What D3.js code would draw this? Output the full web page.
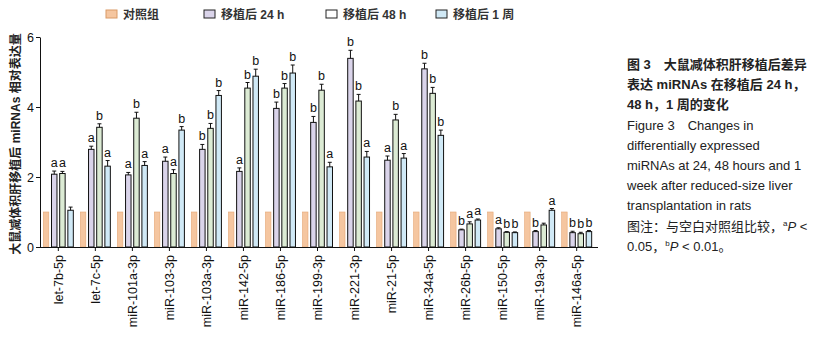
<!DOCTYPE html>
<html>
<head>
<meta charset="utf-8">
<script src="https://cdn.jsdelivr.net/npm/d3@7"></script>
<style>
  body { margin: 0; background: #fff; }
  svg { font-family: "Liberation Sans", Arial, "Noto Sans CJK SC", sans-serif; }
</style>
</head>
<body>
<div id="chart_div"></div>
<script>
// data
const categories = ["let-7b-5p", "let-7c-5p", "miR-101a-3p", "miR-103-3p", "miR-103a-3p", "miR-142-5p",
  "miR-186-5p", "miR-199-3p", "miR-221-3p", "miR-21-5p", "miR-34a-5p", "miR-26b-5p",
  "miR-150-5p", "miR-19a-3p", "miR-146a-5p"];
const groupNames = ["对照组", "移植后 24 h", "移植后 48 h", "移植后 1 周"];
const controlValues = [1, 1, 1, 1, 1, 1, 1, 1, 1, 1, 1, 1, 1, 1, 1];
const h24Values = [2.08, 2.79, 2.06, 2.45, 2.79, 2.16, 3.96, 3.56, 5.39, 2.48, 5.09, 0.49, 0.52, 0.44, 0.41];
const h24Err = [0.09, 0.09, 0.07, 0.12, 0.14, 0.10, 0.18, 0.17, 0.23, 0.12, 0.16, 0.02, 0.03, 0.03, 0.04];
const h48Values = [2.10, 3.42, 3.68, 2.10, 3.39, 4.54, 4.54, 4.48, 4.17, 3.63, 4.39, 0.66, 0.42, 0.63, 0.38];
const h48Err = [0.06, 0.10, 0.17, 0.11, 0.14, 0.16, 0.13, 0.17, 0.19, 0.16, 0.17, 0.06, 0.02, 0.05, 0.04];
const w1Values = [1.05, 2.31, 2.33, 3.34, 4.33, 4.88, 4.97, 2.29, 2.57, 2.54, 3.19, 0.77, 0.41, 1.05, 0.44];
const w1Err = [0.09, 0.16, 0.11, 0.10, 0.14, 0.20, 0.23, 0.13, 0.16, 0.13, 0.15, 0.03, 0.02, 0.05, 0.03];
const h24Sig = ["a", "a", "a", "a", "b", "a", "b", "b", "b", "a", "b", "b", "a", "b", "b"];
const h48Sig = ["a", "b", "b", "a", "b", "b", "b", "b", "b", "b", "b", "a", "b", "", "b"];
const w1Sig = ["", "a", "a", "b", "b", "b", "b", "a", "a", "a", "b", "a", "b", "a", "b"];
const yTicks = [0, 2, 4, 6];

const fills = ["#f5c6a0", "#dad4ea", "#dcebd4", "#d0e9f6"];
const legendFills = ["#f5c6a0", "#dad4ea", "#ffffff", "#d0e9f6"];

const svg = d3.select("#chart_div").append("svg")
  .attr("width", 834).attr("height", 338);

// rows per group: [value, err, sig]
const series = [
  controlValues.map(v => [v, 0, ""]),
  h24Values.map((v, i) => [v, h24Err[i], h24Sig[i]]),
  h48Values.map((v, i) => [v, h48Err[i], h48Sig[i]]),
  w1Values.map((v, i) => [v, w1Err[i], w1Sig[i]])
];

const x = d3.scaleBand().domain(categories).range([40, 595]).paddingInner(0.19).paddingOuter(0.09);
const xi = d3.scaleBand().domain(d3.range(4)).range([0, x.bandwidth()]).paddingInner(0.33);
const y = d3.scaleLinear().domain([0, 6]).range([247, 37]);

// bars
categories.forEach((c, ci) => {
  const g = svg.append("g").attr("transform", `translate(${x(c)},0)`);
  series.forEach((s, si) => {
    const [v, e, sig] = s[ci];
    const bx = xi(si), bw = xi.bandwidth();
    g.append("rect")
      .attr("x", bx).attr("y", y(v))
      .attr("width", bw).attr("height", y(0) - y(v))
      .attr("fill", fills[si])
      .attr("stroke", si === 0 ? "#e4a674" : "#111")
      .attr("stroke-width", si === 0 ? 0.6 : 1);
    if (e > 0) {
      g.append("line").attr("x1", bx + bw / 2).attr("x2", bx + bw / 2)
        .attr("y1", y(v)).attr("y2", y(v + e)).attr("stroke", "#111");
      g.append("line").attr("x1", bx + bw / 2 - 2).attr("x2", bx + bw / 2 + 2)
        .attr("y1", y(v + e)).attr("y2", y(v + e)).attr("stroke", "#111");
    }
    if (sig) {
      g.append("text").attr("x", bx + bw / 2).attr("y", y(v + e) - 4)
        .attr("text-anchor", "middle").style("font-size", "12.5px").attr("fill", "#111")
        .text(sig);
    }
  });
});

// axes
const yAxis = svg.append("g").attr("transform", "translate(40,0)")
  .call(d3.axisLeft(y).tickValues(yTicks).tickFormat(d3.format("d")).tickSize(4).tickSizeOuter(0));
yAxis.selectAll("text").attr("x", -6).style("font-size", "12.5px").attr("fill", "#111");
yAxis.selectAll("line,path").attr("stroke", "#111");

const xAxis = svg.append("g").attr("transform", "translate(0,247)")
  .call(d3.axisBottom(x).tickSize(4).tickSizeOuter(0));
xAxis.select(".domain").attr("d", "M40,0.5H598").attr("stroke", "#111");
xAxis.selectAll("line").attr("stroke", "#111");
xAxis.selectAll("text")
  .attr("transform", "rotate(-90)")
  .attr("text-anchor", "end")
  .attr("x", -8).attr("y", 0).attr("dy", "0.35em")
  .style("font-size", "12.5px").attr("fill", "#111");

// y label
svg.append("text")
  .attr("transform", "translate(20,144) rotate(-90)")
  .attr("text-anchor", "middle")
  .style("font-size", "12px").style("font-weight", "bold").attr("fill", "#222")
  .text("大鼠减体积肝移植后 miRNAs 相对表达量");

// legend
const legendX = [106, 204, 326, 436];
groupNames.forEach((n, i) => {
  svg.append("rect").attr("x", legendX[i]).attr("y", 10).attr("width", 11).attr("height", 8)
    .attr("fill", legendFills[i]).attr("stroke", i === 0 ? "#d99a66" : "#222");
  svg.append("text").attr("x", legendX[i] + 17).attr("y", 19)
    .style("font-size", "12px").style("font-weight", "bold").attr("fill", "#333")
    .text(n);
});

// caption
const cap = svg.append("g").attr("transform", "translate(627,0)");
const capLines = [
  {t: "图 3　大鼠减体积肝移植后差异", b: true},
  {t: "表达 miRNAs 在移植后 24 h，", b: true},
  {t: "48 h，1 周的变化", b: true},
  {t: "Figure 3　Changes in"},
  {t: "differentially expressed"},
  {t: "miRNAs at 24, 48 hours and 1"},
  {t: "week after reduced-size liver"},
  {t: "transplantation in rats"}
];
capLines.forEach((l, i) => {
  cap.append("text").attr("x", 0).attr("y", 69 + i * 20.2)
    .style("font-size", "13px").style("font-weight", l.b ? "bold" : "normal").attr("fill", "#222")
    .text(l.t);
});
const note1 = cap.append("text").attr("x", 0).attr("y", 69 + 8 * 20.2)
  .style("font-size", "13px").attr("fill", "#222");
note1.append("tspan").text("图注：与空白对照组比较，");
note1.append("tspan").text("a").attr("dy", -5).style("font-size", "8px");
note1.append("tspan").text("P").attr("dy", 5).style("font-style", "italic");
note1.append("tspan").text(" <");
const note2 = cap.append("text").attr("x", 0).attr("y", 69 + 9 * 20.2)
  .style("font-size", "13px").attr("fill", "#222");
note2.append("tspan").text("0.05，");
note2.append("tspan").text("b").attr("dy", -5).style("font-size", "8px");
note2.append("tspan").text("P").attr("dy", 5).style("font-style", "italic");
note2.append("tspan").text(" < 0.01。");
</script>
</body>
</html>
